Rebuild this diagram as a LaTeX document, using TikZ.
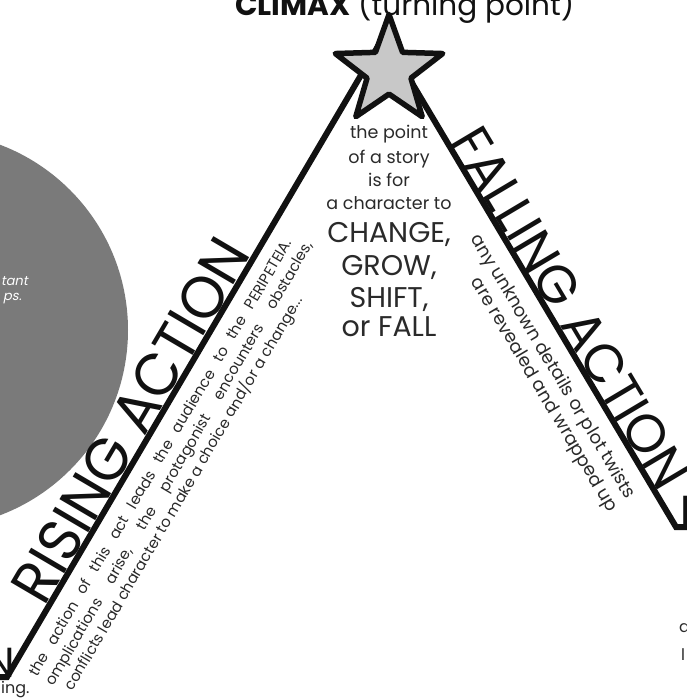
\documentclass[tikz,border=0pt]{standalone}
\usepackage{fontspec}
\setmainfont{Poppins}
\newfontfamily\titlefont{Poppins}
\newfontfamily\slfont[FakeSlant=0.2]{Poppins}
\usetikzlibrary{calc,shapes.geometric}
\definecolor{ink}{HTML}{111111}
\definecolor{circgray}{HTML}{7A7A7A}
\definecolor{stargray}{HTML}{C8C8C8}
\definecolor{txt}{HTML}{2A2A2A}
\tikzset{
  mainline/.style={line width=6pt, draw=ink, line join=miter},
  bigtitle/.style={font=\titlefont\fontsize{60}{60}\selectfont, text=ink, inner sep=0pt},
  smalltitle/.style={font=\titlefont\fontsize{42}{42}\selectfont, text=ink, inner sep=0pt},
  rtext/.style={font=\fontsize{15}{18}\selectfont, text=txt, inner sep=0pt},
  ftext/.style={font=\fontsize{18}{20}\selectfont, text=txt, inner sep=0pt},
  ptsmall/.style={font=\fontsize{17.5}{20}\selectfont, text=txt, inner sep=0pt, anchor=base},
  ptbig/.style={font=\fontsize{28.5}{30}\selectfont, text=txt, inner sep=0pt, anchor=base},
  circtext/.style={font=\slfont\fontsize{13}{15}\selectfont, text=white, inner sep=0pt},
  edgetext/.style={font=\fontsize{16}{18}\selectfont, text=txt, inner sep=0pt}
}
\begin{document}
\begin{tikzpicture}[x=1pt,y=-1pt]
\useasboundingbox (0,0) rectangle (686,698);
\fill[white] (0,0) rectangle (686,698);
% big grey circle at left
\node[circle, fill=circgray, minimum size=396pt, inner sep=0pt] (circ) at (-70,330) {};
\node[circtext, anchor=base west] (c1) at (1,285) {tant};
\node[circtext, anchor=base west] (c2) at (3,300) {ps.};
% main plot line
\coordinate (lft) at (-12,677);
\coordinate (bl) at (7,677);
\coordinate (apex) at (384,36);
\coordinate (br) at (676,527);
\coordinate (rgt) at (700,527);
\draw[mainline] (lft) -- (bl) -- (apex) -- (br) -- (rgt);
% star
\node[star, star points=5, star point ratio=2.45, minimum size=113pt, inner sep=0pt,
      draw=ink, line width=5.5pt, line join=round, fill=stargray] (star) at (389,71) {};
% top title
\node[anchor=base west, inner sep=0pt, text=ink, font=\fontsize{29.5}{30}\selectfont] (climax) at (235,16)
  {\textbf{CLIMAX} (turning point)};
% centre text
\node[ptsmall] (p1) at (389,139) {the point};
\node[ptsmall] (p2) at (389,163) {of a story};
\node[ptsmall] (p3) at (389,186) {is for};
\node[ptsmall] (p4) at (389,209) {a character to};
\node[ptbig] (p5) at (389,242) {CHANGE,};
\node[ptbig] (p6) at (389,275) {GROW,};
\node[ptbig] (p7) at (389,307) {SHIFT,};
\node[ptbig] (p8) at (389,336) {or FALL};
% rising action
\node[bigtitle, anchor=base, rotate=59.54] (rising) at ($(bl)!0.382!(apex)+(-2.6,-1.5)$)
  {\resizebox{410pt}{42pt}{RISING ACTION}};
\node[rtext, anchor=base west, rotate=59.54] (r1) at ($(bl)!0.020!(apex)+(22.4,13.1)$)
  {\makebox[504pt][s]{the action of this act leads the audience to the PERIPETEIA.}};
\node[rtext, anchor=base west, rotate=59.54] (r2) at ($(bl)!0.020!(apex)+(38.8,22.7)$)
  {\makebox[512pt][s]{omplications arise, the protagonist encounters obstacles,}};
\node[rtext, anchor=base west, rotate=59.54] (r3) at ($(bl)!0.027!(apex)+(55.2,32.3)$)
  {conflicts lead character to make a choice and/or a change...};
% falling action
\node[bigtitle, anchor=base, rotate=-59.23] (falling) at ($(apex)!0.576!(br)+(2.6,-1.5)$)
  {\resizebox{410pt}{38pt}{FALLING ACTION}};
\node[ftext, anchor=base west, rotate=-59.23] (f1) at ($(apex)!0.382!(br)+(-24.9,15.0)$)
  {any unknown details or plot twists};
\node[ftext, anchor=base west, rotate=-59.23] (f2) at ($(apex)!0.447!(br)+(-43.7,26.3)$)
  {are revealed and wrapped up};
% fragments at the edges
\node[smalltitle, anchor=base east] (expo) at (15,677) {N};
\node[smalltitle, anchor=base west] (deno) at (680,525) {D};
\node[edgetext, anchor=base west] (e1) at (1,693) {ing.};
\node[edgetext, anchor=base west] (e2) at (679,632) {a};
\node[edgetext, anchor=base west] (e3) at (681,660) {l};
\end{tikzpicture}
\end{document}
